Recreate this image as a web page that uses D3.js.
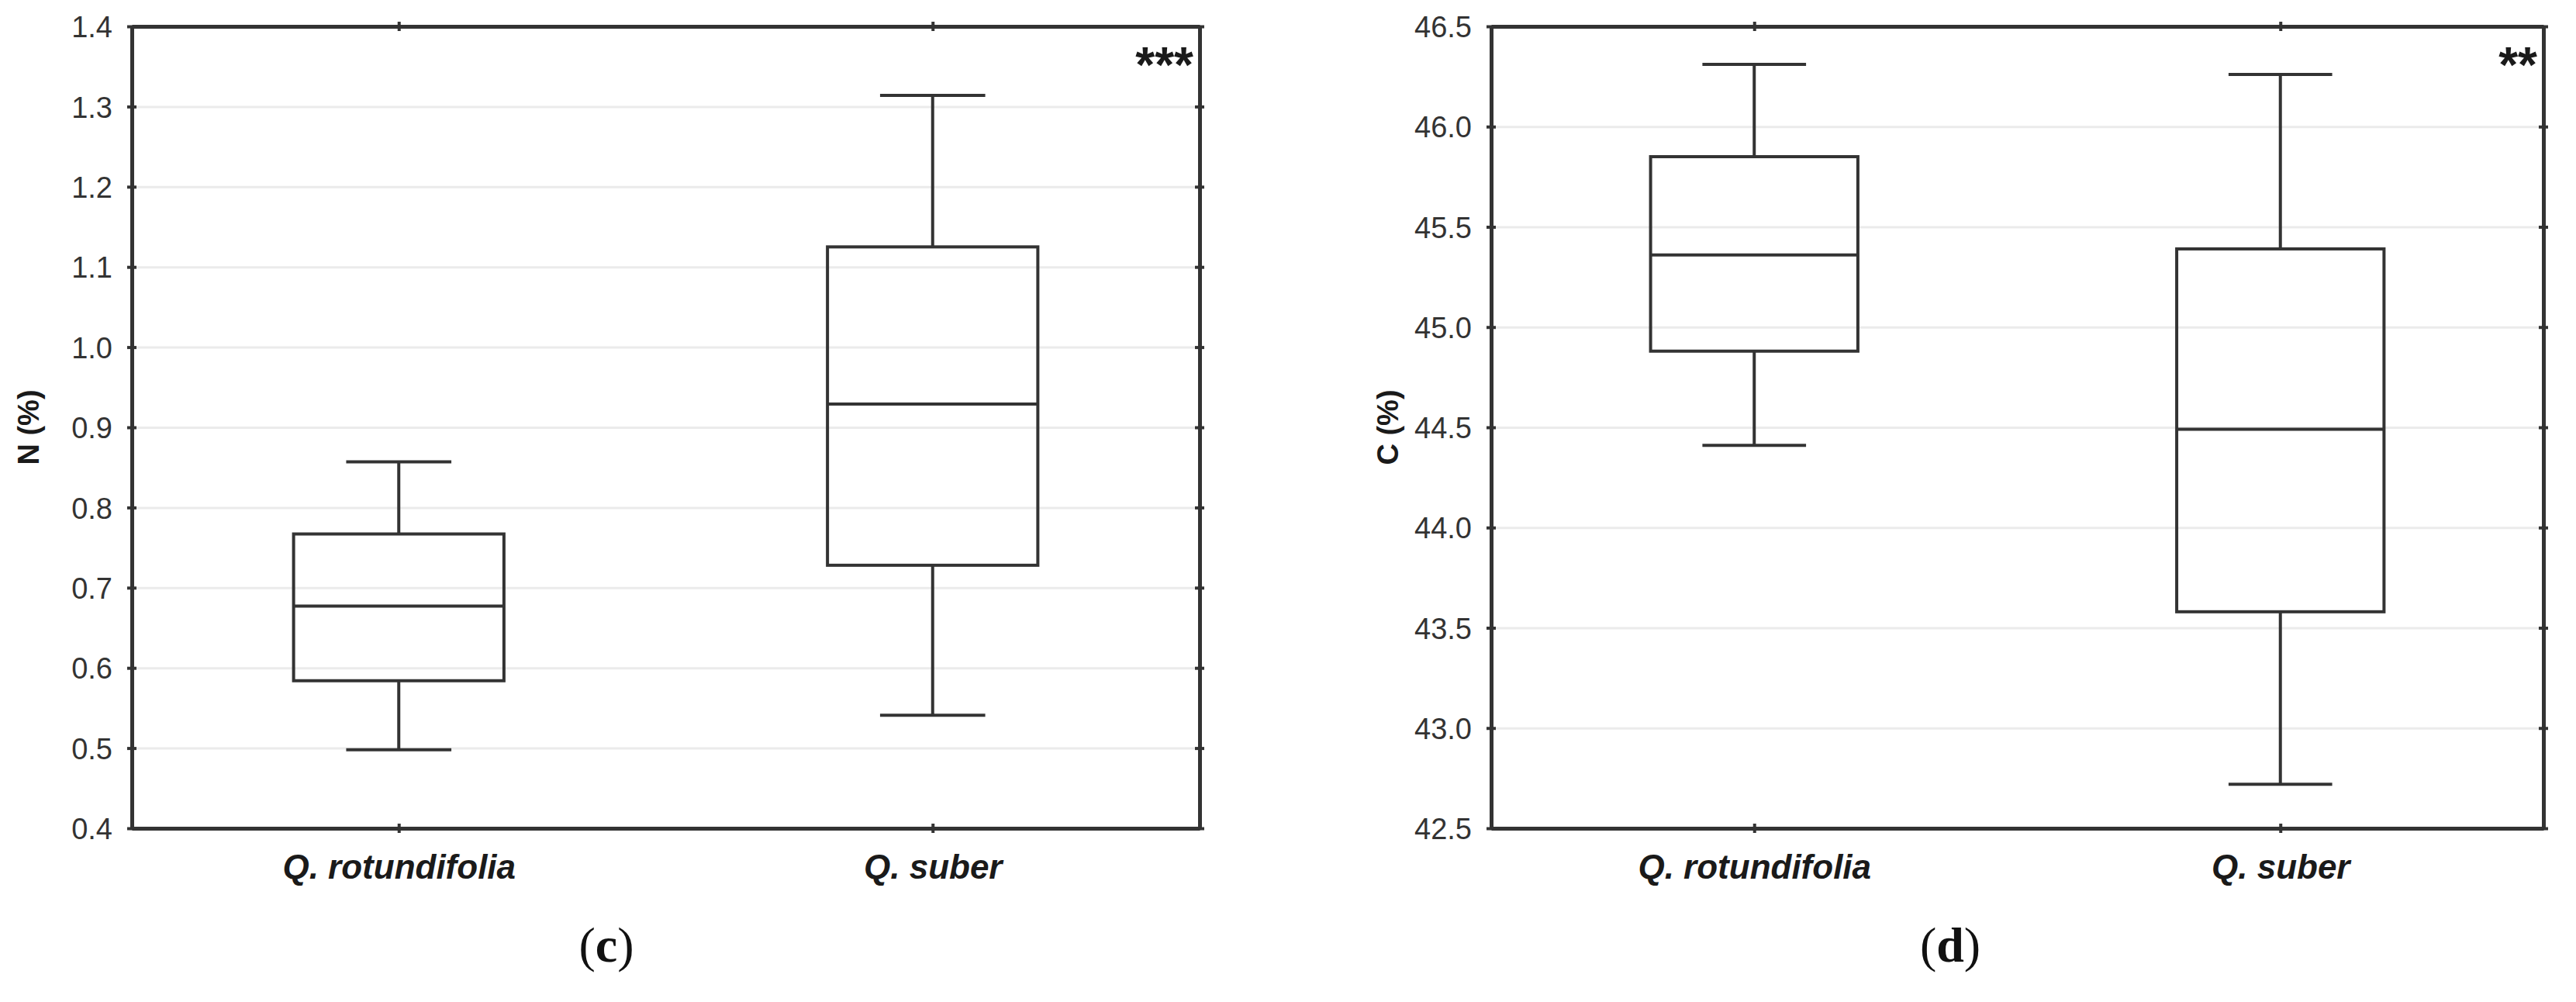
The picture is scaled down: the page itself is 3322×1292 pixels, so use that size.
<!DOCTYPE html>
<html>
<head>
<meta charset="utf-8">
<script src="https://d3js.org/d3.v7.min.js"></script>
<style>
  body { margin: 0; background: #fff; }
  svg text { font-family: 'Liberation Sans', Arial, sans-serif; }
  .axis .tick text { font-size: 38px; fill: #333; }
  .axis path, .axis line { stroke: #333; }
  .cat-axis .tick text { font-size: 44px; font-weight: bold; font-style: italic; fill: #1a1a1a; }
  .grid line { stroke: #ebebeb; stroke-width: 3px; }
  .grid path { display: none; }
  .y-title { font-size: 38px; font-weight: bold; fill: #1a1a1a; }
  .stars { font-size: 64px; font-weight: bold; fill: #1a1a1a; }
  .panel-tag { font-family: 'Liberation Serif', 'DejaVu Serif', serif; font-size: 64px; fill: #111; }
</style>
</head>
<body>
<div id="chart"></div>
<script>

var categories = ["Q. rotundifolia", "Q. suber"];

// (c) nitrogen
var nTicks = [0.4, 0.5, 0.6, 0.7, 0.8, 0.9, 1.0, 1.1, 1.2, 1.3, 1.4];
var nMin = [0.498, 0.541];
var nQ1 = [0.584, 0.728];
var nMedian = [0.677, 0.929];
var nQ3 = [0.767, 1.125];
var nMax = [0.857, 1.314];

// (d) carbon
var cTicks = [42.5, 43.0, 43.5, 44.0, 44.5, 45.0, 45.5, 46.0, 46.5];
var cMin = [44.41, 42.72];
var cQ1 = [44.88, 43.58];
var cMedian = [45.36, 44.49];
var cQ3 = [45.85, 45.39];
var cMax = [46.31, 46.26];

var W = 3322, H = 1292;
var plotTop = 34, plotBottom = 1068;

var svg = d3.select("#chart").append("svg")
  .attr("width", W)
  .attr("height", H);

svg.append("rect").attr("width", W).attr("height", H).attr("fill", "#fff");

var panels = [
  { left: 170, right: 1547, ticks: nTicks, min: nMin, q1: nQ1, med: nMedian, q3: nQ3, max: nMax,
    title: "N (%)", stars: "***", tag: "c", tagX: 782 },
  { left: 1923, right: 3280, ticks: cTicks, min: cMin, q1: cQ1, med: cMedian, q3: cQ3, max: cMax,
    title: "C (%)", stars: "**", tag: "d", tagX: 2515 }
];

panels.forEach(function (p) {
  var w = p.right - p.left, h = plotBottom - plotTop;

  var g = svg.append("g").attr("transform", "translate(" + p.left + "," + plotTop + ")");

  var y = d3.scaleLinear()
    .domain([p.ticks[0], p.ticks[p.ticks.length - 1]])
    .range([h, 0]);

  var x = d3.scalePoint()
    .domain(categories)
    .range([0, w])
    .padding(0.5);

  // light gridlines
  g.append("g").attr("class", "grid")
    .call(d3.axisLeft(y).tickValues(p.ticks.slice(1, -1)).tickSize(-w).tickFormat(""));

  // boxes
  var boxW = w * 0.197, capW = boxW * 0.5;
  var stats = categories.map(function (c, i) {
    return { cat: c, min: p.min[i], q1: p.q1[i], med: p.med[i], q3: p.q3[i], max: p.max[i] };
  });

  var box = g.selectAll(".box").data(stats).enter().append("g")
    .attr("class", "box")
    .attr("transform", function (d) { return "translate(" + x(d.cat) + ",0)"; })
    .attr("stroke", "#333")
    .attr("stroke-width", 4);

  box.append("line")
    .attr("y1", function (d) { return y(d.max); })
    .attr("y2", function (d) { return y(d.q3); });
  box.append("line")
    .attr("y1", function (d) { return y(d.q1); })
    .attr("y2", function (d) { return y(d.min); });
  box.append("line")
    .attr("x1", -capW / 2).attr("x2", capW / 2)
    .attr("y1", function (d) { return y(d.max); })
    .attr("y2", function (d) { return y(d.max); });
  box.append("line")
    .attr("x1", -capW / 2).attr("x2", capW / 2)
    .attr("y1", function (d) { return y(d.min); })
    .attr("y2", function (d) { return y(d.min); });
  box.append("rect")
    .attr("x", -boxW / 2)
    .attr("width", boxW)
    .attr("y", function (d) { return y(d.q3); })
    .attr("height", function (d) { return y(d.q1) - y(d.q3); })
    .attr("fill", "none");
  box.append("line")
    .attr("x1", -boxW / 2).attr("x2", boxW / 2)
    .attr("y1", function (d) { return y(d.med); })
    .attr("y2", function (d) { return y(d.med); });

  // axes (frame)
  var yl = g.append("g").attr("class", "axis")
    .call(d3.axisLeft(y).tickValues(p.ticks).tickFormat(d3.format(".1f"))
      .tickSize(6).tickSizeOuter(0).tickPadding(19));
  yl.selectAll(".tick line").attr("x1", 6).attr("stroke-width", 4);
  yl.selectAll(".tick text").attr("dy", "0.36em");

  var yr = g.append("g").attr("class", "axis")
    .attr("transform", "translate(" + w + ",0)")
    .call(d3.axisRight(y).tickValues(p.ticks).tickFormat("").tickSize(6).tickSizeOuter(0));
  yr.selectAll(".tick line").attr("x1", -6).attr("stroke-width", 4);

  var xb = g.append("g").attr("class", "axis cat-axis")
    .attr("transform", "translate(0," + h + ")")
    .call(d3.axisBottom(x).tickSize(6).tickSizeOuter(0).tickPadding(28));
  xb.selectAll(".tick line").attr("y1", -6).attr("stroke-width", 4);

  var xt = g.append("g").attr("class", "axis")
    .call(d3.axisTop(x).tickSize(6).tickSizeOuter(0).tickFormat(""));
  xt.selectAll(".tick line").attr("y1", 6).attr("stroke-width", 4);

  g.selectAll(".axis path.domain").attr("stroke-width", 5).attr("stroke", "#333");

  // y title
  g.append("text")
    .attr("class", "y-title")
    .attr("transform", "translate(-134," + (h / 2) + ") rotate(-90)")
    .attr("text-anchor", "middle")
    .attr("dy", "0.36em")
    .text(p.title);

  // significance stars
  g.append("text")
    .attr("class", "stars")
    .attr("x", w - 8)
    .attr("y", 72)
    .attr("text-anchor", "end")
    .text(p.stars);

  // panel tag
  var t = svg.append("text")
    .attr("class", "panel-tag")
    .attr("x", p.tagX)
    .attr("y", 1240)
    .attr("text-anchor", "middle");
  t.append("tspan").text("(");
  t.append("tspan").attr("font-weight", "bold").text(p.tag);
  t.append("tspan").text(")");
});

</script>
</body>
</html>
